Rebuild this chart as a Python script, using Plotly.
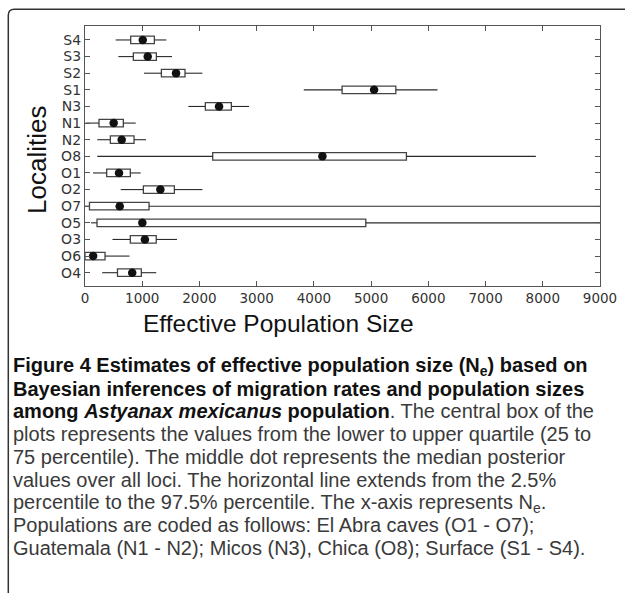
import plotly.graph_objects as go

# ---- data (bottom to top) ----
localities = ["O4", "O6", "O3", "O5", "O7", "O2", "O1", "O8", "N2", "N1", "N3", "S1", "S2", "S3", "S4"]
low_2_5 = [300, 0, 480, 105, 0, 624, 140, 215, 215, 10, 1806, 3823, 1031, 583, 536]
q1 = [568, 0, 792, 210, 78, 1020, 379, 2232, 443, 245, 2103, 4493, 1335, 845, 799]
median = [825, 142, 1047, 1002, 607, 1317, 594, 4149, 641, 501, 2343, 5052, 1591, 1096, 1009]
q3 = [984, 350, 1245, 4907, 1119, 1562, 792, 5617, 857, 670, 2558, 5432, 1748, 1247, 1212]
high_97_5 = [1245, 778, 1608, 12000, 12000, 2051, 973, 7879, 1066, 886, 2867, 6160, 2051, 1521, 1422]
x_ticks = [0, 1000, 2000, 3000, 4000, 5000, 6000, 7000, 8000, 9000]

caption_lines = [
    "<b>Figure 4 Estimates of effective population size (N<sub>e</sub>) based on</b>",
    "<b>Bayesian inferences of migration rates and population sizes</b>",
    "<b>among <i>Astyanax mexicanus</i> population</b><span style='color:#3a3a3a'>. The central box of the</span>",
    "<span style='color:#3a3a3a'>plots represents the values from the lower to upper quartile (25 to</span>",
    "<span style='color:#3a3a3a'>75 percentile). The middle dot represents the median posterior</span>",
    "<span style='color:#3a3a3a'>values over all loci. The horizontal line extends from the 2.5%</span>",
    "<span style='color:#3a3a3a'>percentile to the 97.5% percentile. The x-axis represents N<sub>e</sub>.</span>",
    "<span style='color:#3a3a3a'>Populations are coded as follows: El Abra caves (O1 - O7);</span>",
    "<span style='color:#3a3a3a'>Guatemala (N1 - N2); Micos (N3), Chica (O8); Surface (S1 - S4).</span>",
]

# ---- layout geometry (pixels) ----
W, H = 625, 593
L, R, T, B = 85, 25, 26, 307
PW, PH = W - L - R, H - T - B


def px_x(px):
    return (px - L) / PW


def px_y(py):
    return (H - B - py) / PH


fig = go.Figure()

# whiskers (two segments per row so they do not cross the white box)
wx, wy = [], []
for loc, lo, a, b, hi in zip(localities, low_2_5, q1, q3, high_97_5):
    wx += [lo, a, None, b, hi, None]
    wy += [loc, loc, None, loc, loc, None]
fig.add_trace(go.Scatter(x=wx, y=wy, mode="lines", line=dict(color="#2a2a2a", width=1.1),
                         hoverinfo="skip", showlegend=False))

# boxes (interquartile range)
fig.add_trace(go.Bar(y=localities, x=[b - a for a, b in zip(q1, q3)], base=q1, orientation="h",
                     width=0.45, marker=dict(color="white", line=dict(color="#444444", width=1.3)),
                     showlegend=False))

# medians
fig.add_trace(go.Scatter(x=median, y=localities, mode="markers",
                         marker=dict(color="#111111", size=8.5), showlegend=False))

fig.update_xaxes(range=[0, 9000], tickvals=x_ticks, ticktext=[str(v) for v in x_ticks],
                 showline=True, linecolor="#555555", linewidth=1.3, mirror="ticks",
                 ticks="inside", ticklen=5, tickcolor="#555555", showgrid=False, zeroline=False,
                 tickfont=dict(family="DejaVu Sans", size=13.5, color="#333333"))
fig.update_yaxes(type="category", categoryorder="array", categoryarray=localities,
                 tickmode="array", tickvals=localities, ticktext=localities,
                 range=[-0.8, 14.84], showline=True, linecolor="#555555", linewidth=1.3,
                 mirror="ticks", ticks="inside", ticklen=5, tickcolor="#555555", showgrid=False,
                 tickfont=dict(family="DejaVu Sans", size=14, color="#333333"))

annotations = [
    dict(text="Effective Population Size", x=px_x(278), y=px_y(323), xref="paper", yref="paper",
         showarrow=False, xanchor="center", yanchor="middle",
         font=dict(family="Liberation Sans", size=24.5, color="#111111")),
    dict(text="Localities", x=px_x(37), y=px_y(160), xref="paper", yref="paper", textangle=-90,
         showarrow=False, xanchor="center", yanchor="middle",
         font=dict(family="Liberation Sans", size=26, color="#111111")),
]
line_y = [366, 389, 411, 434, 457, 480, 503, 525, 548]
for i, (txt, ly) in enumerate(zip(caption_lines, line_y)):
    annotations.append(dict(text=txt, x=px_x(11), y=px_y(ly), xref="paper", yref="paper",
                            showarrow=False, xanchor="left", yanchor="middle", align="left",
                            font=dict(family="Liberation Sans", size=20, color="#111111")))

# page frame with rounded top-left corner
x0, yt = px_x(8.3), px_y(9.3)
rx, ry = 6 / PW, 6 / PH
xr, yb = px_x(660), px_y(620)
frame = f"M {x0},{yb} L {x0},{yt - ry} Q {x0},{yt} {x0 + rx},{yt} L {xr},{yt}"

fig.update_layout(
    width=W, height=H, margin=dict(l=L, r=R, t=T, b=B, autoexpand=False),
    paper_bgcolor="white", plot_bgcolor="white", showlegend=False,
    annotations=annotations,
    shapes=[dict(type="path", path=frame, xref="paper", yref="paper",
                 line=dict(color="#333333", width=1.5))],
)

fig.write_html("out.html")
